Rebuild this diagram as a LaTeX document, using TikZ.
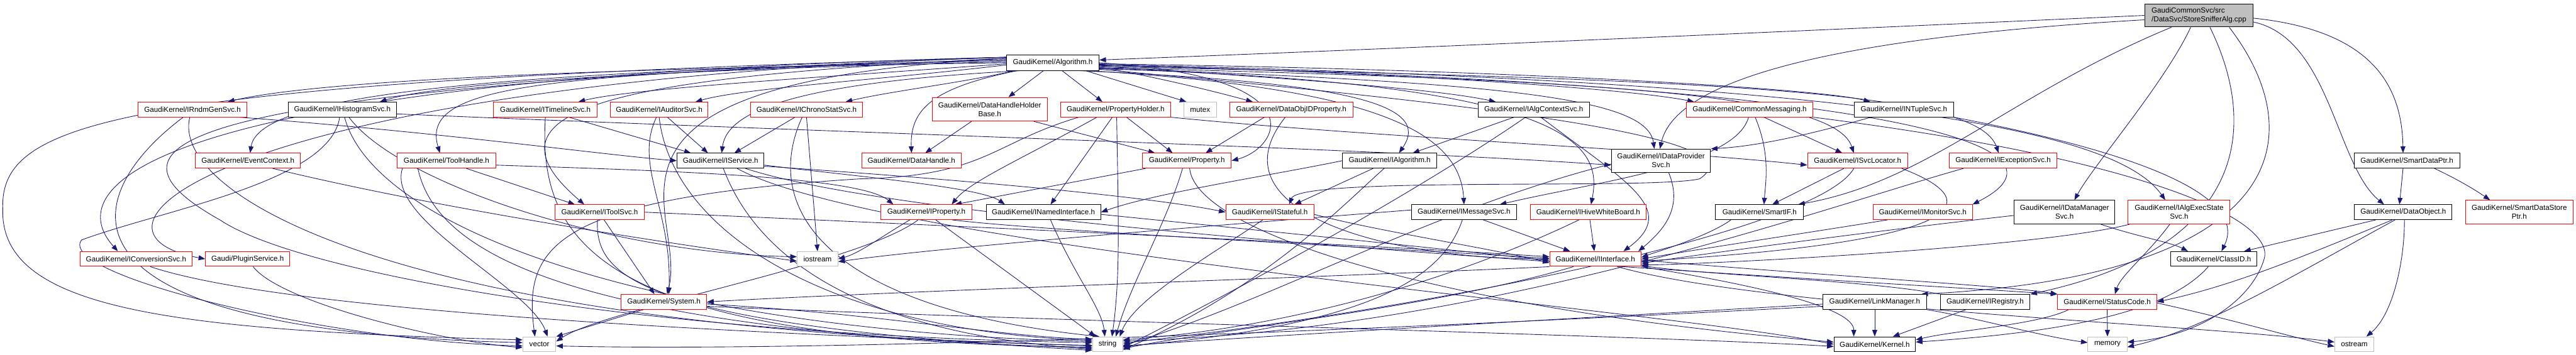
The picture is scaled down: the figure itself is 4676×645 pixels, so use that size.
\documentclass[tikz,border=0pt]{standalone}
\usepackage{fontspec}
\setmainfont{Liberation Sans}
\usetikzlibrary{arrows.meta}
\definecolor{edgeblue}{HTML}{191970}
\definecolor{graybox}{HTML}{BFBFBF}
\pgfdeclarelayer{bg}
\pgfsetlayers{bg,main}
\begin{document}
\begin{tikzpicture}[x=1pt,y=-1pt,
  nb/.style={draw, fill=white, line width=1.1pt, inner sep=0pt, minimum height=27pt, align=center,
    font=\fontsize{13.3pt}{16pt}\selectfont},
  bb/.style={nb, draw=black},
  rb/.style={nb, draw=red},
  gb/.style={nb, draw=graybox},
  tall/.style={minimum height=43pt},
  e/.style={draw=edgeblue, line width=1pt, -{Triangle[length=12pt,width=9pt]}}]
\useasboundingbox (0,0) rectangle (4676,645);
% ---------------- nodes ----------------
\node[bb, fill=graybox, minimum width=197pt, minimum height=42pt, align=left] (ssa) at (3991.5,28) {GaudiCommonSvc/src\\/DataSvc/StoreSnifferAlg.cpp};
\node[bb, minimum width=168pt, minimum height=28pt] (alg) at (1911,114) {GaudiKernel/Algorithm.h};
% row C
\node[rb, minimum width=197pt] (rndm) at (349.5,199) {GaudiKernel/IRndmGenSvc.h};
\node[bb, minimum width=197pt] (hist) at (621.5,199) {GaudiKernel/IHistogramSvc.h};
\node[rb, minimum width=188pt] (timeline) at (990,199) {GaudiKernel/ITimelineSvc.h};
\node[rb, minimum width=177pt] (auditor) at (1196.5,199) {GaudiKernel/IAuditorSvc.h};
\node[rb, minimum width=204pt] (chrono) at (1464,199) {GaudiKernel/IChronoStatSvc.h};
\node[rb, tall, minimum width=209pt] (dhhb) at (1796.5,198.5) {GaudiKernel/DataHandleHolder\\Base.h};
\node[rb, minimum width=200pt] (propholder) at (2025,199) {GaudiKernel/PropertyHolder.h};
\node[gb, minimum width=59pt] (mutex) at (2178.5,199) {mutex};
\node[rb, minimum width=224pt] (dataobjid) at (2344,199) {GaudiKernel/DataObjIDProperty.h};
\node[bb, minimum width=202pt] (algctx) at (2784,199) {GaudiKernel/IAlgContextSvc.h};
\node[rb, minimum width=230pt] (commonmsg) at (3176,199) {GaudiKernel/CommonMessaging.h};
\node[bb, minimum width=180pt] (ntuple) at (3456,199) {GaudiKernel/INTupleSvc.h};
% row D
\node[rb, minimum width=190pt] (evctx) at (450,292) {GaudiKernel/EventContext.h};
\node[rb, minimum width=179pt] (toolhandle) at (810.5,292) {GaudiKernel/ToolHandle.h};
\node[bb, minimum width=158pt] (iservice) at (1308,292) {GaudiKernel/IService.h};
\node[rb, minimum width=181pt] (datahandle) at (1654.5,292) {GaudiKernel/DataHandle.h};
\node[rb, minimum width=161pt] (property) at (2154.5,292) {GaudiKernel/Property.h};
\node[bb, minimum width=171pt] (ialgorithm) at (2522.5,292) {GaudiKernel/IAlgorithm.h};
\node[bb, minimum width=180pt, minimum height=42pt] (idataprov) at (3015,292) {GaudiKernel/IDataProvider\\Svc.h};
\node[rb, minimum width=182pt] (isvcloc) at (3372,292) {GaudiKernel/ISvcLocator.h};
\node[rb, minimum width=196pt] (iexception) at (3636,292) {GaudiKernel/IExceptionSvc.h};
\node[bb, minimum width=192pt] (smartdataptr) at (4369,292) {GaudiKernel/SmartDataPtr.h};
% row E
\node[rb, minimum width=161pt] (itoolsvc) at (1088.5,385.5) {GaudiKernel/IToolSvc.h};
\node[rb, minimum width=165pt] (iproperty) at (1681.5,385.5) {GaudiKernel/IProperty.h};
\node[bb, minimum width=208pt] (inamed) at (1894,385.5) {GaudiKernel/INamedInterface.h};
\node[rb, minimum width=160pt] (istateful) at (2305,385.5) {GaudiKernel/IStateful.h};
\node[bb, minimum width=191pt] (imessage) at (2657.5,385.5) {GaudiKernel/IMessageSvc.h};
\node[rb, minimum width=210pt] (ihive) at (2883,385.5) {GaudiKernel/IHiveWhiteBoard.h};
\node[bb, minimum width=160pt] (smartif) at (3194,385.5) {GaudiKernel/SmartIF.h};
\node[rb, minimum width=180pt] (imonitor) at (3490,385.5) {GaudiKernel/IMonitorSvc.h};
\node[bb, tall, minimum width=183pt] (idatamgr) at (3747.5,385.5) {GaudiKernel/IDataManager\\Svc.h};
\node[rb, tall, minimum width=185pt] (ialgexec) at (3955.5,385.5) {GaudiKernel/IAlgExecState\\Svc.h};
\node[bb, minimum width=177pt] (dataobject) at (4362.5,385.5) {GaudiKernel/DataObject.h};
\node[rb, tall, minimum width=196pt] (smartdatastore) at (4573,385.5) {GaudiKernel/SmartDataStore\\Ptr.h};
% row F
\node[rb, minimum width=204pt] (iconversion) at (247,470.5) {GaudiKernel/IConversionSvc.h};
\node[rb, minimum width=153pt] (plugin) at (449.5,470.5) {Gaudi/PluginService.h};
\node[gb, minimum width=74pt] (iostream) at (1484,470.5) {iostream};
\node[rb, minimum width=166pt] (iinterface) at (2896,470.5) {GaudiKernel/IInterface.h};
\node[bb, minimum width=157pt] (classid) at (4018.5,470.5) {GaudiKernel/ClassID.h};
% row G
\node[rb, minimum width=156pt] (system) at (1205,548.5) {GaudiKernel/System.h};
\node[bb, minimum width=188pt] (linkmgr) at (3403,548.5) {GaudiKernel/LinkManager.h};
\node[bb, minimum width=163pt] (iregistry) at (3603.5,548.5) {GaudiKernel/IRegistry.h};
\node[rb, minimum width=180pt] (statuscode) at (3825,548.5) {GaudiKernel/StatusCode.h};
% row H
\node[gb, minimum width=60pt] (vector) at (979,625.5) {vector};
\node[gb, minimum width=55pt] (string) at (2010.5,625.5) {string};
\node[bb, minimum width=148pt] (kernel) at (3403,625.5) {GaudiKernel/Kernel.h};
\node[gb, minimum width=71pt] (memory) at (3825.5,625.5) {memory};
\node[gb, minimum width=71pt] (ostream) at (4273.5,625.5) {ostream};
% ---------------- edges ----------------
\begin{pgfonlayer}{bg}
% StoreSnifferAlg.cpp
\draw[e] (ssa.west) .. controls (3300,55) and (2500,90) .. ([yshift=5pt]alg.east);
\draw[e] ([yshift=-8pt]ssa.west) .. controls (3300,70) and (3040,150) .. ([xshift=-2pt]idataprov.north);
\draw[e] ([xshift=-50pt]ssa.south) .. controls (3650,170) and (3500,330) .. ([xshift=70pt]smartif.north);
\draw[e] ([xshift=-15pt]ssa.south) .. controls (3930,150) and (3800,300) .. ([xshift=18pt]idatamgr.north);
\draw[e] ([xshift=20pt]ssa.south) .. controls (4100,230) and (4080,450) .. (iregistry.north east);
\draw[e] ([xshift=55pt]ssa.south) .. controls (4200,250) and (4150,500) .. ([xshift=-10pt]linkmgr.north east);
\draw[e] ([yshift=-5pt]ssa.east) .. controls (4300,55) and (4360,150) .. ([xshift=-7pt]smartdataptr.north);
\draw[e] ([yshift=-12pt]ssa.east) .. controls (4230,70) and (4240,300) .. ([xshift=-35pt]dataobject.north);
% Algorithm.h
\draw[e] (alg.west) .. controls (1000,125) and (560,150) .. ([xshift=64pt]rndm.north);
\draw[e] ([yshift=2pt]alg.west) .. controls (1200,128) and (800,150) .. ([xshift=68pt]hist.north);
\draw[e] ([yshift=-2pt]alg.west) .. controls (1500,140) and (1150,160) .. ([xshift=60pt]timeline.north);
\draw[e] ([yshift=-4pt]alg.west) .. controls (1600,145) and (1350,160) .. ([xshift=66pt]auditor.north);
\draw[e] ([xshift=-70pt]alg.south) .. controls (1750,150) and (1620,165) .. ([xshift=71pt]chrono.north);
\draw[e] ([xshift=-17pt]alg.south) -- ([xshift=34pt]dhhb.north);
\draw[e] ([xshift=17pt]alg.south) -- ([xshift=-24pt]propholder.north);
\draw[e] ([xshift=60pt]alg.south) -- ([xshift=-25pt]mutex.north);
\draw[e] ([yshift=-8pt]alg.east) .. controls (2100,140) and (2200,165) .. ([xshift=-70pt]dataobjid.north);
\draw[e] ([yshift=-6pt]alg.east) .. controls (2300,140) and (2600,160) .. ([xshift=-69pt]algctx.north);
\draw[e] ([yshift=-4pt]alg.east) .. controls (2500,130) and (2950,160) .. ([xshift=-101pt]commonmsg.north);
\draw[e] ([yshift=-2pt]alg.east) .. controls (2700,125) and (3300,160) .. ([xshift=-61pt]ntuple.north);
\draw[e] ([yshift=4pt]alg.west) .. controls (900,130) and (470,170) .. ([xshift=4pt]evctx.north);
\draw[e] ([yshift=6pt]alg.west) .. controls (1000,135) and (760,150) .. ([xshift=-12pt]toolhandle.north);
\draw[e] ([xshift=-60pt]alg.south) .. controls (1450,150) and (1320,200) .. ([xshift=2pt]iservice.north);
\draw[e] ([xshift=-65pt]alg.south) .. controls (1690,160) and (1652,200) .. (datahandle.north);
\draw[e] (alg.east) .. controls (2400,140) and (2320,270) .. (property.east);
\draw[e] ([xshift=50pt]alg.south) .. controls (2450,150) and (2600,190) .. ([xshift=17pt]ialgorithm.north);
\draw[e] ([yshift=-10pt]alg.east) .. controls (2750,150) and (2990,180) .. ([xshift=-12pt]idataprov.north);
\draw[e] ([yshift=-9pt]alg.east) .. controls (2900,145) and (3330,170) .. ([xshift=-7pt]isvcloc.north);
\draw[e] ([yshift=-7pt]alg.east) .. controls (3200,145) and (3590,170) .. ([xshift=-8pt]iexception.north);
\draw[e] ([yshift=8pt]alg.west) .. controls (1100,140) and (860,200) .. ([xshift=-28pt]itoolsvc.north);
\draw[e] ([yshift=-12pt]alg.east) .. controls (2700,190) and (3200,250) .. (3085,325) .. controls (3000,345) and (2360,320) .. ([xshift=35pt]istateful.north);
\draw[e] ([xshift=65pt]alg.south) .. controls (2500,160) and (2650,240) .. (imessage.north);
\draw[e] ([yshift=-11pt]alg.east) .. controls (2850,150) and (2910,260) .. ([xshift=5pt]ihive.north);
\draw[e] ([yshift=-5pt]alg.east) .. controls (3400,150) and (3800,260) .. (imonitor.north east);
\draw[e] ([yshift=-3pt]alg.east) .. controls (3500,150) and (3850,250) .. ([xshift=-25pt]ialgexec.north);
\draw[e] ([yshift=10pt]alg.west) .. controls (300,140) and (100,330) .. ([xshift=-33pt]iconversion.north);
\draw[e] ([yshift=10pt]alg.west) .. controls (400,150) and (100,420) .. (plugin.west);
\draw[e] ([yshift=8pt]alg.west) .. controls (1000,150) and (1250,380) .. ([xshift=6pt]system.north);
\draw[e] ([yshift=10pt]alg.west) .. controls (200,150) and (0,220) .. (5,380) .. controls (0,560) and (300,600) .. ([yshift=8pt]vector.west);
\draw[e] ([yshift=10pt]alg.west) .. controls (300,160) and (150,260) .. (400,400) .. controls (550,500) and (1200,610) .. ([yshift=3pt]string.west);
% IRndmGenSvc
\draw[e] ([xshift=85pt]rndm.south) .. controls (800,240) and (1100,282) .. (iservice.west);
\draw[e] ([xshift=-17pt]rndm.south) .. controls (150,350) and (50,600) .. ([yshift=3pt]vector.west);
\draw[e] ([xshift=-5pt]rndm.south) .. controls (310,350) and (700,600) .. ([yshift=-2pt]string.west);
% IHistogramSvc
\draw[e] ([yshift=-8pt]hist.east) .. controls (1500,240) and (2500,270) .. ([yshift=-8pt]idataprov.west);
\draw[e] ([xshift=4pt]hist.south) .. controls (680,420) and (1200,600) .. ([yshift=5pt]string.west);
\draw[e] ([xshift=12pt]hist.south) .. controls (720,330) and (1100,460) .. ([yshift=4pt]iostream.west);
\draw[e] ([xshift=-5pt]hist.south) .. controls (600,330) and (300,380) .. (148,436) .. controls (100,500) and (600,620) .. ([yshift=-3pt]vector.west);
% ITimelineSvc
\draw[e] ([xshift=43pt]timeline.south) -- ([xshift=-54pt]iservice.north);
\draw[e] (timeline.south) .. controls (975,450) and (1100,620) .. ([yshift=-5pt]string.west);
% IAuditorSvc
\draw[e] ([xshift=15pt]auditor.south) -- ([xshift=-23pt]iservice.north);
\draw[e] ([xshift=-5pt]auditor.south) .. controls (1150,300) and (1220,380) .. ([xshift=9pt]system.north);
\draw[e] (auditor.south) .. controls (1220,420) and (1500,600) .. ([yshift=7pt]string.west);
% IChronoStatSvc
\draw[e] ([xshift=-21pt]chrono.south) -- ([xshift=25pt]iservice.north);
\draw[e] (chrono.south) -- (iostream.north);
\draw[e] ([xshift=-8pt]chrono.south) .. controls (1380,380) and (1500,560) .. ([xshift=-15pt]string.north);
% DataHandleHolderBase
\draw[e] ([xshift=-33pt]dhhb.south) -- ([xshift=25pt]datahandle.north);
\draw[e] ([xshift=80pt]dhhb.south) -- ([xshift=-58pt]property.north);
% PropertyHolder
\draw[e] ([xshift=20pt]propholder.south) -- ([xshift=-26pt]property.north);
\draw[e] ([xshift=-34pt]propholder.south) .. controls (1856,288) and (1760,330) .. ([xshift=46pt]iproperty.north);
\draw[e] ([xshift=-6pt]propholder.south) -- ([xshift=13pt]inamed.north);
\draw[e] ([xshift=2pt]propholder.south) .. controls (2030,400) and (2034,500) .. ([xshift=8pt]string.north);
\draw[e] ([xshift=-67pt]propholder.south) .. controls (1800,260) and (1790,320) .. (1560,325) .. controls (1000,360) and (950,450) .. ([xshift=-8pt]vector.north);
\draw[e] (propholder.south east) .. controls (2500,250) and (3000,270) .. ([yshift=-8pt]isvcloc.west);
% DataObjIDProperty
\draw[e] ([xshift=-49pt]dataobjid.south) -- ([xshift=34pt]property.north);
\draw[e] ([xshift=-11pt]dataobjid.south) .. controls (2200,380) and (2500,470) .. (iinterface.west);
% IAlgContextSvc
\draw[e] ([xshift=-36pt]algctx.south) -- ([xshift=42pt]ialgorithm.north);
\draw[e] ([xshift=-15pt]algctx.south) .. controls (2600,330) and (2300,500) .. ([yshift=-6pt]string.east);
\draw[e] ([xshift=13pt]algctx.south) .. controls (2950,330) and (3050,380) .. ([xshift=51pt]iinterface.north);
% CommonMessaging
\draw[e] ([xshift=-2pt]commonmsg.south) .. controls (3150,300) and (2900,330) .. ([xshift=65pt]imessage.north);
\draw[e] ([xshift=10pt]commonmsg.south) .. controls (3214,280) and (3205,330) .. ([xshift=8pt]smartif.north);
\draw[e] ([xshift=26pt]commonmsg.south) -- ([xshift=-28pt]isvcloc.north);
\draw[e] (commonmsg.south east) .. controls (3900,290) and (4130,400) .. (4110,470) .. controls (4090,540) and (4000,610) .. ([yshift=4pt]memory.east);
% INTupleSvc
\draw[e] ([xshift=-60pt]ntuple.south) .. controls (3300,240) and (3200,265) .. (idataprov.north east);
\draw[e] (ntuple.south east) .. controls (3900,280) and (4080,360) .. ([xshift=14pt]classid.north);
% EventContext
\draw[e] ([xshift=45pt]evctx.south) .. controls (800,380) and (1200,440) .. ([yshift=-4pt]iostream.west);
% ToolHandle
\draw[e] ([xshift=36pt]toolhandle.south) -- ([xshift=-45pt]itoolsvc.north);
\draw[e] ([xshift=-52pt]toolhandle.south) .. controls (790,450) and (1000,600) .. ([yshift=-7pt]string.west);
\draw[e] ([xshift=-80pt]toolhandle.south) .. controls (700,400) and (960,520) .. ([xshift=15pt]vector.north);
\draw[e] ([yshift=-8pt]toolhandle.east) .. controls (1200,310) and (1560,320) .. ([xshift=-60pt]iproperty.north);
% IService
\draw[e] ([yshift=-8pt]iservice.east) .. controls (1550,320) and (1780,340) .. ([xshift=-70pt]inamed.north);
\draw[e] ([yshift=-10pt]iservice.east) .. controls (1800,330) and (2100,360) .. (istateful.west);
\draw[e] ([xshift=5pt]iservice.south) .. controls (1360,430) and (1500,600) .. ([yshift=-9pt]string.west);
\draw[e] ([xshift=30pt]iservice.south) .. controls (1600,450) and (3000,560) .. (kernel.west);
\draw[e] ([xshift=45pt]iservice.south) .. controls (1700,420) and (3200,500) .. (statuscode.north west);
% Property
\draw[e] ([xshift=-75pt]property.south) -- ([xshift=52pt]iproperty.north);
\draw[e] ([xshift=-8pt]property.south) .. controls (2120,400) and (2050,520) .. ([xshift=15pt]string.north);
\draw[e] ([xshift=5pt]property.south) .. controls (2170,420) and (2600,560) .. ([yshift=4pt]kernel.west);
% IAlgorithm
\draw[e] ([xshift=-30pt]ialgorithm.south) -- ([xshift=45pt]istateful.north);
\draw[e] (ialgorithm.west) .. controls (2300,320) and (2100,350) .. (inamed.east);
\draw[e] ([xshift=-10pt]ialgorithm.south) .. controls (2440,370) and (2300,520) .. ([yshift=-10pt]string.east);
% IDataProviderSvc
\draw[e] ([xshift=14pt]idataprov.south) .. controls (3052,370) and (3030,410) .. ([xshift=78pt]iinterface.north);
\draw[e] ([yshift=-6pt]idataprov.west) .. controls (2600,380) and (2300,550) .. ([yshift=-2pt]string.east);
% ISvcLocator
\draw[e] ([xshift=-25pt]isvcloc.south) -- ([xshift=23pt]smartif.north);
\draw[e] ([xshift=-7pt]isvcloc.south) .. controls (3300,420) and (2600,560) .. ([yshift=2pt]string.east);
\draw[e] ([xshift=80pt]isvcloc.south) .. controls (3620,370) and (3560,440) .. ([yshift=-4pt]iinterface.east);
% IExceptionSvc
\draw[e] ([xshift=-72pt]iexception.south) .. controls (3300,380) and (2700,600) .. ([yshift=6pt]string.east);
% IToolSvc
\draw[e] (itoolsvc.east) .. controls (1600,405) and (2400,440) .. ([yshift=4pt]iinterface.west);
\draw[e] ([xshift=8pt]itoolsvc.south) -- ([xshift=-17pt]system.north);
\draw[e] ([xshift=-4pt]itoolsvc.south) .. controls (1080,500) and (1150,590) .. ([yshift=-11pt]string.west);
% IProperty
\draw[e] ([xshift=17pt]iproperty.south) -- ([xshift=-22pt]string.north);
\draw[e] ([xshift=47pt]iproperty.south) .. controls (1900,420) and (2500,450) .. ([yshift=1pt]iinterface.west);
\draw[e] ([xshift=-30pt]iproperty.south) .. controls (1600,430) and (1560,460) .. (iostream.east);
\draw[e] ([xshift=-15pt]iproperty.south) .. controls (1560,480) and (1100,560) .. ([yshift=5pt]vector.east);
% INamedInterface
\draw[e] ([xshift=13pt]inamed.south) .. controls (1950,500) and (2000,560) .. ([xshift=-5pt]string.north);
\draw[e] ([yshift=-4pt]inamed.east) .. controls (2300,420) and (2600,450) .. ([yshift=-3pt]iinterface.west);
% IStateful
\draw[e] ([xshift=-13pt]istateful.south) .. controls (2220,450) and (2060,540) .. ([xshift=22pt]string.north);
\draw[e] ([yshift=-4pt]istateful.east) .. controls (2500,420) and (2700,450) .. ([yshift=-7pt]iinterface.west);
% IMessageSvc
\draw[e] ([xshift=35pt]imessage.south) -- ([xshift=-46pt]iinterface.north);
\draw[e] ([xshift=-3pt]imessage.south) .. controls (2620,500) and (2500,590) .. ([yshift=-4pt]string.east);
\draw[e] ([yshift=4pt]imessage.west) .. controls (2200,410) and (1700,450) .. ([yshift=-5pt]iostream.east);
% IHiveWhiteBoard
\draw[e] ([xshift=3pt]ihive.south) -- ([xshift=-2pt]iinterface.north);
\draw[e] ([xshift=-17pt]ihive.south) .. controls (2700,480) and (2400,590) .. ([yshift=8pt]string.east);
% SmartIF, IMonitorSvc, IDataManagerSvc, IAlgExecStateSvc
\draw[e] ([xshift=-52pt]smartif.south) .. controls (3100,430) and (3000,460) .. ([yshift=3pt]iinterface.east);
\draw[e] ([xshift=-64pt]imonitor.south) .. controls (3300,420) and (3100,450) .. ([yshift=0pt]iinterface.east);
\draw[e] ([yshift=-6pt]idatamgr.west) .. controls (3400,420) and (3100,460) .. ([yshift=-8pt]iinterface.east);
\draw[e] ([xshift=66pt]idatamgr.south) .. controls (3880,430) and (3940,440) .. ([xshift=-47pt]classid.north);
\draw[e] ([xshift=-17pt]ialgexec.south) .. controls (3900,460) and (3850,500) .. ([xshift=14pt]statuscode.north);
\draw[e] ([xshift=-90pt]ialgexec.south) .. controls (3700,450) and (3100,480) .. ([yshift=-11pt]iinterface.east);
% DataObject, SmartDataPtr
\draw[e] ([xshift=-50pt]dataobject.south) -- ([xshift=55pt]classid.north);
\draw[e] ([xshift=-20pt]dataobject.south) .. controls (4174,469) and (4050,520) .. (statuscode.east);
\draw[e] ([xshift=2pt]dataobject.south) .. controls (4365,470) and (4345,570) .. ([xshift=22pt]ostream.north);
\draw[e] ([xshift=-15pt]dataobject.south) .. controls (4174,494) and (4000,600) .. ([yshift=-5pt]memory.east);
\draw[e] ([xshift=-7pt]smartdataptr.south) -- ([xshift=-7pt]dataobject.north);
\draw[e] ([xshift=50pt]smartdataptr.south) .. controls (4470,330) and (4500,350) .. ([xshift=-53pt]smartdatastore.north);
% ClassID
\draw[e] ([xshift=-10pt]classid.south) .. controls (3946,555) and (3800,600) .. ([yshift=4pt]kernel.east);
% IInterface
\draw[e] (iinterface.south east) .. controls (3200,520) and (3365,560) .. ([xshift=-38pt]kernel.north);
\draw[e] ([yshift=-2pt]iinterface.east) .. controls (3300,500) and (3650,520) .. (statuscode.north west);
\draw[e] (iinterface.south west) .. controls (2500,500) and (1600,530) .. (system.east);
\draw[e] ([xshift=-40pt]iinterface.south) .. controls (2600,560) and (2200,600) .. ([yshift=-8pt]string.east);
\draw[e] ([xshift=40pt]iinterface.south) .. controls (3200,560) and (4000,590) .. ([yshift=4pt]ostream.west);
% System
\draw[e] ([xshift=-37pt]system.south) -- (vector.north east);
\draw[e] ([yshift=-4pt]system.east) .. controls (1600,570) and (1800,610) .. ([yshift=9pt]string.west);
\draw[e] ([yshift=-8pt]system.east) .. controls (1800,580) and (3000,610) .. ([yshift=-4pt]kernel.west);
% LinkManager, IRegistry, StatusCode
\draw[e] (linkmgr.south) -- (kernel.north);
\draw[e] (linkmgr.south east) .. controls (3600,580) and (3700,610) .. ([yshift=3pt]memory.west);
\draw[e] ([yshift=-4pt]linkmgr.west) .. controls (3000,570) and (2300,610) .. ([yshift=-3pt]string.east);
\draw[e] ([yshift=-8pt]linkmgr.west) .. controls (2500,600) and (1500,640) .. ([yshift=-3pt]vector.east);
\draw[e] ([xshift=-35pt]iregistry.south) -- ([xshift=33pt]kernel.north);
\draw[e] (iregistry.north west) .. controls (3400,510) and (3100,500) .. ([yshift=-12pt]iinterface.east);
\draw[e] (statuscode.south) -- (memory.north);
\draw[e] ([xshift=-70pt]statuscode.south) .. controls (3700,590) and (3550,600) .. ([yshift=8pt]kernel.east);
\draw[e] ([yshift=-2pt]statuscode.east) .. controls (4050,580) and (4150,610) .. ([yshift=-4pt]ostream.west);
% IConversionSvc, PluginService
\draw[e] ([xshift=26pt]iconversion.south) .. controls (500,560) and (1200,600) .. ([yshift=-3pt]string.west);
\draw[e] ([xshift=10pt]plugin.south) .. controls (510,550) and (800,620) .. ([yshift=-6pt]vector.west);
\end{pgfonlayer}
\end{tikzpicture}
\end{document}
